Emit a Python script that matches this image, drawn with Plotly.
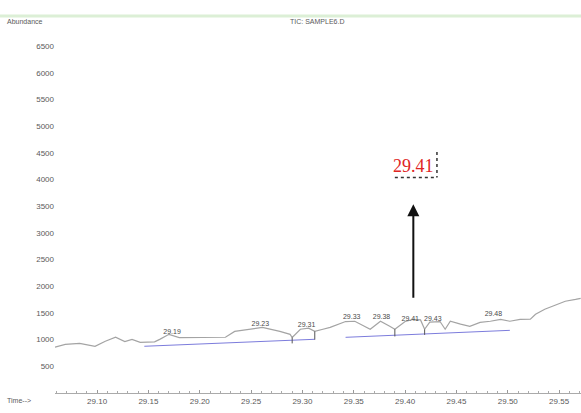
import plotly.graph_objects as go

# ---- data ----
time_min = [29.059, 29.069, 29.083, 29.098, 29.108, 29.118, 29.127, 29.134, 29.142, 29.156,
            29.161, 29.170, 29.180, 29.200, 29.225, 29.234, 29.249, 29.261, 29.278, 29.288,
            29.290, 29.298, 29.306, 29.312, 29.319, 29.327, 29.342, 29.351, 29.366, 29.376,
            29.385, 29.390, 29.400, 29.408, 29.415, 29.419, 29.424, 29.434, 29.439, 29.444,
            29.454, 29.463, 29.473, 29.483, 29.493, 29.502, 29.512, 29.522, 29.527, 29.536,
            29.546, 29.556, 29.566, 29.571]
abundance = [860, 910, 930, 875, 970, 1045, 965, 1005, 950, 960,
             1005, 1100, 1040, 1045, 1045, 1155, 1195, 1230, 1155, 1100,
             1040, 1195, 1215, 1155, 1190, 1230, 1340, 1345, 1195, 1345,
             1250, 1195, 1340, 1380, 1370, 1195, 1330, 1340, 1195, 1345,
             1290, 1250, 1325, 1345, 1380, 1345, 1380, 1385, 1475, 1570,
             1645, 1720, 1755, 1775]

baseline1_t = [29.146, 29.312]
baseline1_a = [876, 1007]
baseline2_t = [29.342, 29.502]
baseline2_a = [1044, 1175]

marker_t = [29.290, 29.312, 29.390, 29.419]
marker_top = [1040, 1155, 1195, 1195]
marker_bot = [930, 1000, 1060, 1090]

peak_labels = ["29.19", "29.23", "29.31", "29.33", "29.38", "29.41", "29.43", "29.48"]
peak_label_t = [29.173, 29.259, 29.304, 29.348, 29.377, 29.405, 29.427, 29.486]
peak_label_a = [1138, 1288, 1269, 1419, 1419, 1382, 1382, 1476]

x_ticks = [29.10, 29.15, 29.20, 29.25, 29.30, 29.35, 29.40, 29.45, 29.50, 29.55]
x_tick_labels = ["29.10", "29.15", "29.20", "29.25", "29.30", "29.35", "29.40", "29.45", "29.50", "29.55"]
y_ticks = [500, 1000, 1500, 2000, 2500, 3000, 3500, 4000, 4500, 5000, 5500, 6000, 6500]

highlight_label = "29.41"
highlight_t = 29.408
highlight_a = 4251
arrow_head_a = 3538
arrow_tail_a = 1757

FONT = "Liberation Sans"
GRAY = "#5a5a5a"

fig = go.Figure()

fig.add_trace(go.Scatter(x=time_min, y=abundance, mode="lines",
                         line=dict(color="#a4a4a4", width=1.2), hoverinfo="skip"))
fig.add_trace(go.Scatter(x=baseline1_t, y=baseline1_a, mode="lines",
                         line=dict(color="#7c7cdc", width=1), hoverinfo="skip"))
fig.add_trace(go.Scatter(x=baseline2_t, y=baseline2_a, mode="lines",
                         line=dict(color="#7c7cdc", width=1), hoverinfo="skip"))
mx, my = [], []
for t, a1, a2 in zip(marker_t, marker_top, marker_bot):
    mx += [t, t, None]
    my += [a1, a2, None]
fig.add_trace(go.Scatter(x=mx, y=my, mode="lines",
                         line=dict(color="#555555", width=1), hoverinfo="skip"))
fig.add_trace(go.Scatter(x=peak_label_t, y=peak_label_a, mode="text", text=peak_labels,
                         textfont=dict(family=FONT, size=7, color="#4a4a4a"),
                         hoverinfo="skip"))

# arrow
fig.add_annotation(x=highlight_t, y=arrow_head_a, ax=highlight_t, ay=arrow_tail_a,
                   xref="x", yref="y", axref="x", ayref="y", text="",
                   showarrow=True, arrowhead=2, arrowsize=1.2, arrowwidth=2,
                   arrowcolor="#111111")
# red highlighted label
fig.add_annotation(x=highlight_t, y=highlight_a, xref="x", yref="y", text=highlight_label,
                   showarrow=False,
                   font=dict(family="Liberation Serif", size=18, color="#e02424"))
# dotted frame (right + bottom)
fig.add_shape(type="line", xref="x", yref="y", x0=29.431, x1=29.431, y0=4520, y1=4040,
              line=dict(color="#333333", width=1.5, dash="dot"))
fig.add_shape(type="line", xref="x", yref="y", x0=29.390, x1=29.431, y0=4040, y1=4040,
              line=dict(color="#333333", width=1.5, dash="dot"))

# header
fig.add_shape(type="line", xref="paper", yref="paper", x0=-0.105, x1=1.0,
              y0=(413 - 16 - 20) / 363, y1=(413 - 16 - 20) / 363,
              line=dict(color="#dcefd6", width=3))
fig.add_annotation(xref="paper", yref="paper", x=(5 - 55) / 526, y=(413 - 21 - 20) / 363,
                   xanchor="left", yanchor="middle", text="Abundance", showarrow=False,
                   font=dict(family=FONT, size=7, color=GRAY))
fig.add_annotation(xref="paper", yref="paper", x=(317 - 55) / 526, y=(413 - 21 - 20) / 363,
                   xanchor="center", yanchor="middle", text="TIC: SAMPLE6.D", showarrow=False,
                   font=dict(family=FONT, size=7, color=GRAY))
fig.add_annotation(xref="paper", yref="paper", x=(5 - 55) / 526, y=(413 - 400 - 20) / 363,
                   xanchor="left", yanchor="middle", text="Time-->", showarrow=False,
                   font=dict(family=FONT, size=7, color=GRAY))

fig.update_layout(
    width=581, height=413,
    margin=dict(l=55, r=0, t=30, b=20),
    paper_bgcolor="white", plot_bgcolor="white",
    showlegend=False,
    hovermode=False,
    font=dict(family=FONT, size=7, color=GRAY),
    xaxis=dict(range=[29.059, 29.5713], tickvals=x_ticks, ticktext=x_tick_labels,
               showgrid=False, zeroline=False, showline=True, linecolor="#aaaaaa",
               linewidth=1, ticks="inside", ticklen=3, tickcolor="#999999",
               minor=dict(dtick=0.01, ticks="inside", ticklen=2, tickcolor="#aaaaaa"),
               tickfont=dict(family=FONT, size=8, color=GRAY)),
    yaxis=dict(range=[0, 6806], tickvals=y_ticks, showgrid=False, zeroline=False,
               showline=False, ticks="", tickfont=dict(family=FONT, size=8, color=GRAY)),
)

fig.write_html("out.html", config={"displayModeBar": False},
               post_script="document.body.style.margin='0';")
